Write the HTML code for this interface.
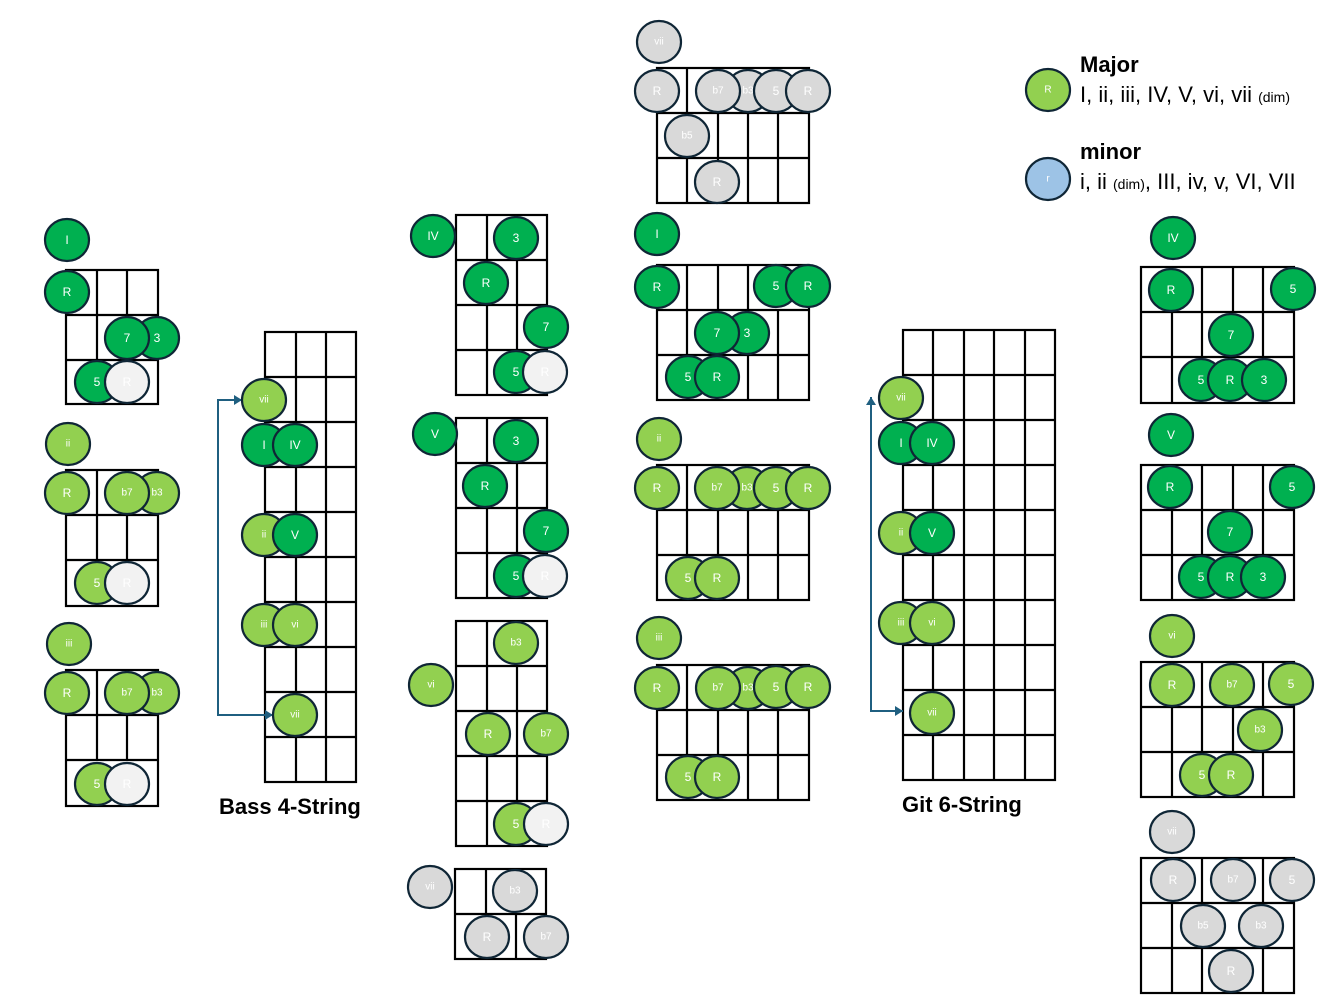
<!DOCTYPE html>
<html><head><meta charset="utf-8"><style>
html,body{margin:0;padding:0;background:#fff;width:1344px;height:1008px;overflow:hidden}
svg{display:block}
.g rect,.g line{stroke:#000;stroke-width:2.2;fill:none}
ellipse{stroke:#0f2636;stroke-width:2.2}
.d{fill:#00B050}.l{fill:#92D050}.y{fill:#D9D9D9}.w{fill:#F2F2F2}.b{fill:#9DC3E6}
text.c{font-family:"Liberation Sans",sans-serif;fill:#fff;font-size:12px;text-anchor:middle;dominant-baseline:central}
text.s{font-size:10px}
</style></head><body>
<svg width="1344" height="1008" viewBox="0 0 1344 1008" xmlns="http://www.w3.org/2000/svg">
<defs><marker id="ah" markerWidth="8" markerHeight="8" refX="7" refY="4" orient="auto" markerUnits="userSpaceOnUse"><path d="M0,0 L8,4 L0,8 z" fill="#1f5f80"/></marker></defs>
<g class="g">
<!-- left I -->
<rect x="66" y="270" width="92" height="134"/><line x1="66" y1="315" x2="158" y2="315"/><line x1="66" y1="360" x2="158" y2="360"/><line x1="97" y1="270" x2="97" y2="360"/><line x1="127" y1="270" x2="127" y2="315"/>
<!-- left ii -->
<rect x="66" y="470" width="92" height="136"/><line x1="66" y1="515" x2="158" y2="515"/><line x1="66" y1="560" x2="158" y2="560"/><line x1="97" y1="470" x2="97" y2="560"/><line x1="127" y1="515" x2="127" y2="560"/>
<!-- left iii -->
<rect x="66" y="670" width="92" height="136"/><line x1="66" y1="715" x2="158" y2="715"/><line x1="66" y1="760" x2="158" y2="760"/><line x1="97" y1="670" x2="97" y2="760"/><line x1="127" y1="715" x2="127" y2="760"/>
<!-- bass -->
<rect x="265" y="332" width="91" height="450"/>
<line x1="296" y1="332" x2="296" y2="782"/><line x1="326" y1="332" x2="326" y2="782"/>
<line x1="265" y1="377" x2="356" y2="377"/><line x1="265" y1="422" x2="356" y2="422"/><line x1="265" y1="467" x2="356" y2="467"/><line x1="265" y1="512" x2="356" y2="512"/><line x1="265" y1="557" x2="356" y2="557"/><line x1="265" y1="602" x2="356" y2="602"/><line x1="265" y1="647" x2="356" y2="647"/><line x1="265" y1="692" x2="356" y2="692"/><line x1="265" y1="737" x2="356" y2="737"/>
<!-- mid IV -->
<rect x="456" y="215" width="91" height="180"/><line x1="456" y1="260" x2="547" y2="260"/><line x1="456" y1="305" x2="547" y2="305"/><line x1="456" y1="350" x2="547" y2="350"/><line x1="487" y1="215" x2="487" y2="260"/><line x1="487" y1="305" x2="487" y2="395"/><line x1="517" y1="260" x2="517" y2="350"/>
<!-- mid V -->
<rect x="456" y="418" width="91" height="180"/><line x1="456" y1="463" x2="547" y2="463"/><line x1="456" y1="508" x2="547" y2="508"/><line x1="456" y1="553" x2="547" y2="553"/><line x1="487" y1="418" x2="487" y2="463"/><line x1="487" y1="508" x2="487" y2="598"/><line x1="517" y1="463" x2="517" y2="553"/>
<!-- mid vi -->
<rect x="456" y="621" width="91" height="225"/><line x1="456" y1="666" x2="547" y2="666"/><line x1="456" y1="711" x2="547" y2="711"/><line x1="456" y1="756" x2="547" y2="756"/><line x1="456" y1="801" x2="547" y2="801"/><line x1="487" y1="621" x2="487" y2="846"/><line x1="517" y1="666" x2="517" y2="801"/>
<!-- mid vii -->
<rect x="455" y="869" width="91" height="90"/><line x1="455" y1="914" x2="546" y2="914"/><line x1="486" y1="869" x2="486" y2="914"/><line x1="516" y1="914" x2="516" y2="959"/>
<!-- col4 vii -->
<rect x="657" y="68" width="152" height="135"/><line x1="657" y1="113" x2="809" y2="113"/><line x1="657" y1="158" x2="809" y2="158"/><line x1="687" y1="68" x2="687" y2="203"/><line x1="718" y1="113" x2="718" y2="203"/><line x1="748" y1="113" x2="748" y2="203"/><line x1="778" y1="113" x2="778" y2="203"/>
<!-- col4 I -->
<rect x="657" y="265" width="152" height="135"/><line x1="657" y1="310" x2="809" y2="310"/><line x1="657" y1="355" x2="809" y2="355"/><line x1="687" y1="265" x2="687" y2="355"/><line x1="718" y1="265" x2="718" y2="310"/><line x1="748" y1="265" x2="748" y2="400"/><line x1="778" y1="310" x2="778" y2="400"/>
<!-- col4 ii -->
<rect x="657" y="465" width="152" height="135"/><line x1="657" y1="510" x2="809" y2="510"/><line x1="657" y1="555" x2="809" y2="555"/><line x1="687" y1="465" x2="687" y2="555"/><line x1="718" y1="510" x2="718" y2="555"/><line x1="748" y1="510" x2="748" y2="600"/><line x1="778" y1="510" x2="778" y2="600"/>
<!-- col4 iii -->
<rect x="657" y="665" width="152" height="135"/><line x1="657" y1="710" x2="809" y2="710"/><line x1="657" y1="755" x2="809" y2="755"/><line x1="687" y1="665" x2="687" y2="755"/><line x1="718" y1="710" x2="718" y2="755"/><line x1="748" y1="710" x2="748" y2="800"/><line x1="778" y1="710" x2="778" y2="800"/>
<!-- git -->
<rect x="903" y="330" width="152" height="450"/>
<line x1="933" y1="330" x2="933" y2="780"/><line x1="964" y1="330" x2="964" y2="780"/><line x1="994" y1="330" x2="994" y2="780"/><line x1="1025" y1="330" x2="1025" y2="780"/>
<line x1="903" y1="375" x2="1055" y2="375"/><line x1="903" y1="420" x2="1055" y2="420"/><line x1="903" y1="465" x2="1055" y2="465"/><line x1="903" y1="510" x2="1055" y2="510"/><line x1="903" y1="555" x2="1055" y2="555"/><line x1="903" y1="600" x2="1055" y2="600"/><line x1="903" y1="645" x2="1055" y2="645"/><line x1="903" y1="690" x2="1055" y2="690"/><line x1="903" y1="735" x2="1055" y2="735"/>
<!-- right grids -->
<rect x="1141" y="267" width="153" height="136"/><line x1="1141" y1="312" x2="1294" y2="312"/><line x1="1141" y1="357" x2="1294" y2="357"/><line x1="1172" y1="312" x2="1172" y2="403"/><line x1="1202" y1="267" x2="1202" y2="357"/><line x1="1233" y1="267" x2="1233" y2="312"/><line x1="1263" y1="267" x2="1263" y2="357"/>
<rect x="1141" y="465" width="153" height="135"/><line x1="1141" y1="510" x2="1294" y2="510"/><line x1="1141" y1="555" x2="1294" y2="555"/><line x1="1172" y1="510" x2="1172" y2="600"/><line x1="1202" y1="465" x2="1202" y2="555"/><line x1="1233" y1="465" x2="1233" y2="510"/><line x1="1263" y1="465" x2="1263" y2="555"/>
<rect x="1141" y="662" width="153" height="135"/><line x1="1141" y1="707" x2="1294" y2="707"/><line x1="1141" y1="752" x2="1294" y2="752"/><line x1="1172" y1="707" x2="1172" y2="797"/><line x1="1202" y1="662" x2="1202" y2="752"/><line x1="1233" y1="707" x2="1233" y2="752"/><line x1="1263" y1="662" x2="1263" y2="797"/>
<rect x="1141" y="858" width="153" height="135"/><line x1="1141" y1="903" x2="1294" y2="903"/><line x1="1141" y1="948" x2="1294" y2="948"/><line x1="1172" y1="903" x2="1172" y2="993"/><line x1="1202" y1="858" x2="1202" y2="993"/><line x1="1263" y1="858" x2="1263" y2="993"/>
</g>
<!-- connectors -->
<polyline points="242,400 218,400 218,715 273,715" fill="none" stroke="#1f5f80" stroke-width="2"/>
<path d="M234,395 L242,400 L234,405 z" fill="#1f5f80"/><path d="M265,710 L273,715 L265,720 z" fill="#1f5f80"/>
<polyline points="871,397 871,711 903,711" fill="none" stroke="#1f5f80" stroke-width="2"/>
<path d="M866,405 L871,397 L876,405 z" fill="#1f5f80"/><path d="M895,706 L903,711 L895,716 z" fill="#1f5f80"/>

<g id="notes">
<!-- left I -->
<ellipse class="d" cx="67" cy="240" rx="22" ry="21"/><text class="c" x="67" y="240">I</text>
<ellipse class="d" cx="67" cy="292" rx="22" ry="21"/><text class="c" x="67" y="292">R</text>
<ellipse class="d" cx="157" cy="338" rx="22" ry="21"/><text class="c" x="157" y="338">3</text>
<ellipse class="d" cx="127" cy="338" rx="22" ry="21"/><text class="c" x="127" y="338">7</text>
<ellipse class="d" cx="97" cy="382" rx="22" ry="21"/><text class="c" x="97" y="382">5</text>
<ellipse class="w" cx="127" cy="382" rx="22" ry="21"/><text class="c" x="127" y="382">R</text>
<!-- left ii -->
<ellipse class="l" cx="68" cy="444" rx="22" ry="21"/><text class="c s" x="68" y="444">ii</text>
<ellipse class="l" cx="67" cy="493" rx="22" ry="21"/><text class="c" x="67" y="493">R</text>
<ellipse class="l" cx="157" cy="493" rx="22" ry="21"/><text class="c s" x="157" y="493">b3</text>
<ellipse class="l" cx="127" cy="493" rx="22" ry="21"/><text class="c s" x="127" y="493">b7</text>
<ellipse class="l" cx="97" cy="583" rx="22" ry="21"/><text class="c" x="97" y="583">5</text>
<ellipse class="w" cx="127" cy="583" rx="22" ry="21"/><text class="c" x="127" y="583">R</text>
<!-- left iii -->
<ellipse class="l" cx="69" cy="644" rx="22" ry="21"/><text class="c s" x="69" y="644">iii</text>
<ellipse class="l" cx="67" cy="693" rx="22" ry="21"/><text class="c" x="67" y="693">R</text>
<ellipse class="l" cx="157" cy="693" rx="22" ry="21"/><text class="c s" x="157" y="693">b3</text>
<ellipse class="l" cx="127" cy="693" rx="22" ry="21"/><text class="c s" x="127" y="693">b7</text>
<ellipse class="l" cx="97" cy="784" rx="22" ry="21"/><text class="c" x="97" y="784">5</text>
<ellipse class="w" cx="127" cy="784" rx="22" ry="21"/><text class="c" x="127" y="784">R</text>
<!-- bass -->
<ellipse class="l" cx="264" cy="400" rx="22" ry="21"/><text class="c s" x="264" y="400">vii</text>
<ellipse class="d" cx="264" cy="445" rx="22" ry="21"/><text class="c" x="264" y="445">I</text>
<ellipse class="d" cx="295" cy="445" rx="22" ry="21"/><text class="c" x="295" y="445">IV</text>
<ellipse class="l" cx="264" cy="535" rx="22" ry="21"/><text class="c s" x="264" y="535">ii</text>
<ellipse class="d" cx="295" cy="535" rx="22" ry="21"/><text class="c" x="295" y="535">V</text>
<ellipse class="l" cx="264" cy="625" rx="22" ry="21"/><text class="c s" x="264" y="625">iii</text>
<ellipse class="l" cx="295" cy="625" rx="22" ry="21"/><text class="c s" x="295" y="625">vi</text>
<ellipse class="l" cx="295" cy="715" rx="22" ry="21"/><text class="c s" x="295" y="715">vii</text>
<!-- mid IV -->
<ellipse class="d" cx="433" cy="236" rx="22" ry="21"/><text class="c" x="433" y="236">IV</text>
<ellipse class="d" cx="516" cy="238" rx="22" ry="21"/><text class="c" x="516" y="238">3</text>
<ellipse class="d" cx="486" cy="283" rx="22" ry="21"/><text class="c" x="486" y="283">R</text>
<ellipse class="d" cx="546" cy="327" rx="22" ry="21"/><text class="c" x="546" y="327">7</text>
<ellipse class="d" cx="516" cy="372" rx="22" ry="21"/><text class="c" x="516" y="372">5</text>
<ellipse class="w" cx="545" cy="372" rx="22" ry="21"/><text class="c" x="545" y="372">R</text>
<!-- mid V -->
<ellipse class="d" cx="435" cy="434" rx="22" ry="21"/><text class="c" x="435" y="434">V</text>
<ellipse class="d" cx="516" cy="441" rx="22" ry="21"/><text class="c" x="516" y="441">3</text>
<ellipse class="d" cx="485" cy="486" rx="22" ry="21"/><text class="c" x="485" y="486">R</text>
<ellipse class="d" cx="546" cy="531" rx="22" ry="21"/><text class="c" x="546" y="531">7</text>
<ellipse class="d" cx="516" cy="576" rx="22" ry="21"/><text class="c" x="516" y="576">5</text>
<ellipse class="w" cx="545" cy="576" rx="22" ry="21"/><text class="c" x="545" y="576">R</text>
<!-- mid vi -->
<ellipse class="l" cx="431" cy="685" rx="22" ry="21"/><text class="c s" x="431" y="685">vi</text>
<ellipse class="l" cx="516" cy="643" rx="22" ry="21"/><text class="c s" x="516" y="643">b3</text>
<ellipse class="l" cx="488" cy="734" rx="22" ry="21"/><text class="c" x="488" y="734">R</text>
<ellipse class="l" cx="546" cy="734" rx="22" ry="21"/><text class="c s" x="546" y="734">b7</text>
<ellipse class="l" cx="516" cy="824" rx="22" ry="21"/><text class="c" x="516" y="824">5</text>
<ellipse class="w" cx="546" cy="824" rx="22" ry="21"/><text class="c" x="546" y="824">R</text>
<!-- mid vii -->
<ellipse class="y" cx="430" cy="887" rx="22" ry="21"/><text class="c s" x="430" y="887">vii</text>
<ellipse class="y" cx="515" cy="891" rx="22" ry="21"/><text class="c s" x="515" y="891">b3</text>
<ellipse class="y" cx="487" cy="937" rx="22" ry="21"/><text class="c" x="487" y="937">R</text>
<ellipse class="y" cx="546" cy="937" rx="22" ry="21"/><text class="c s" x="546" y="937">b7</text>
<!-- col4 vii -->
<ellipse class="y" cx="659" cy="42" rx="22" ry="21"/><text class="c s" x="659" y="42">vii</text>
<ellipse class="y" cx="657" cy="91" rx="22" ry="21"/><text class="c" x="657" y="91">R</text>
<ellipse class="y" cx="748" cy="91" rx="22" ry="21"/><text class="c s" x="748" y="91">b3</text>
<ellipse class="y" cx="718" cy="91" rx="22" ry="21"/><text class="c s" x="718" y="91">b7</text>
<ellipse class="y" cx="776" cy="91" rx="22" ry="21"/><text class="c" x="776" y="91">5</text>
<ellipse class="y" cx="808" cy="91" rx="22" ry="21"/><text class="c" x="808" y="91">R</text>
<ellipse class="y" cx="687" cy="136" rx="22" ry="21"/><text class="c s" x="687" y="136">b5</text>
<ellipse class="y" cx="717" cy="182" rx="22" ry="21"/><text class="c" x="717" y="182">R</text>
<!-- col4 I -->
<ellipse class="d" cx="657" cy="234" rx="22" ry="21"/><text class="c" x="657" y="234">I</text>
<ellipse class="d" cx="657" cy="287" rx="22" ry="21"/><text class="c" x="657" y="287">R</text>
<ellipse class="d" cx="776" cy="286" rx="22" ry="21"/><text class="c" x="776" y="286">5</text>
<ellipse class="d" cx="808" cy="286" rx="22" ry="21"/><text class="c" x="808" y="286">R</text>
<ellipse class="d" cx="747" cy="333" rx="22" ry="21"/><text class="c" x="747" y="333">3</text>
<ellipse class="d" cx="717" cy="333" rx="22" ry="21"/><text class="c" x="717" y="333">7</text>
<ellipse class="d" cx="688" cy="377" rx="22" ry="21"/><text class="c" x="688" y="377">5</text>
<ellipse class="d" cx="717" cy="377" rx="22" ry="21"/><text class="c" x="717" y="377">R</text>
<!-- col4 ii -->
<ellipse class="l" cx="659" cy="439" rx="22" ry="21"/><text class="c s" x="659" y="439">ii</text>
<ellipse class="l" cx="657" cy="488" rx="22" ry="21"/><text class="c" x="657" y="488">R</text>
<ellipse class="l" cx="747" cy="488" rx="22" ry="21"/><text class="c s" x="747" y="488">b3</text>
<ellipse class="l" cx="717" cy="488" rx="22" ry="21"/><text class="c s" x="717" y="488">b7</text>
<ellipse class="l" cx="776" cy="488" rx="22" ry="21"/><text class="c" x="776" y="488">5</text>
<ellipse class="l" cx="808" cy="488" rx="22" ry="21"/><text class="c" x="808" y="488">R</text>
<ellipse class="l" cx="688" cy="578" rx="22" ry="21"/><text class="c" x="688" y="578">5</text>
<ellipse class="l" cx="717" cy="578" rx="22" ry="21"/><text class="c" x="717" y="578">R</text>
<!-- col4 iii -->
<ellipse class="l" cx="659" cy="638" rx="22" ry="21"/><text class="c s" x="659" y="638">iii</text>
<ellipse class="l" cx="657" cy="688" rx="22" ry="21"/><text class="c" x="657" y="688">R</text>
<ellipse class="l" cx="748" cy="688" rx="22" ry="21"/><text class="c s" x="748" y="688">b3</text>
<ellipse class="l" cx="718" cy="688" rx="22" ry="21"/><text class="c s" x="718" y="688">b7</text>
<ellipse class="l" cx="776" cy="687" rx="22" ry="21"/><text class="c" x="776" y="687">5</text>
<ellipse class="l" cx="808" cy="687" rx="22" ry="21"/><text class="c" x="808" y="687">R</text>
<ellipse class="l" cx="688" cy="777" rx="22" ry="21"/><text class="c" x="688" y="777">5</text>
<ellipse class="l" cx="717" cy="777" rx="22" ry="21"/><text class="c" x="717" y="777">R</text>
<!-- git -->
<ellipse class="l" cx="901" cy="398" rx="22" ry="21"/><text class="c s" x="901" y="398">vii</text>
<ellipse class="d" cx="901" cy="443" rx="22" ry="21"/><text class="c" x="901" y="443">I</text>
<ellipse class="d" cx="932" cy="443" rx="22" ry="21"/><text class="c" x="932" y="443">IV</text>
<ellipse class="l" cx="901" cy="533" rx="22" ry="21"/><text class="c s" x="901" y="533">ii</text>
<ellipse class="d" cx="932" cy="533" rx="22" ry="21"/><text class="c" x="932" y="533">V</text>
<ellipse class="l" cx="901" cy="623" rx="22" ry="21"/><text class="c s" x="901" y="623">iii</text>
<ellipse class="l" cx="932" cy="623" rx="22" ry="21"/><text class="c s" x="932" y="623">vi</text>
<ellipse class="l" cx="932" cy="713" rx="22" ry="21"/><text class="c s" x="932" y="713">vii</text>
<!-- right IV -->
<ellipse class="d" cx="1173" cy="238" rx="22" ry="21"/><text class="c" x="1173" y="238">IV</text>
<ellipse class="d" cx="1171" cy="290" rx="22" ry="21"/><text class="c" x="1171" y="290">R</text>
<ellipse class="d" cx="1293" cy="289" rx="22" ry="21"/><text class="c" x="1293" y="289">5</text>
<ellipse class="d" cx="1231" cy="335" rx="22" ry="21"/><text class="c" x="1231" y="335">7</text>
<ellipse class="d" cx="1201" cy="380" rx="22" ry="21"/><text class="c" x="1201" y="380">5</text>
<ellipse class="d" cx="1230" cy="380" rx="22" ry="21"/><text class="c" x="1230" y="380">R</text>
<ellipse class="d" cx="1264" cy="380" rx="22" ry="21"/><text class="c" x="1264" y="380">3</text>
<!-- right V -->
<ellipse class="d" cx="1171" cy="435" rx="22" ry="21"/><text class="c" x="1171" y="435">V</text>
<ellipse class="d" cx="1170" cy="487" rx="22" ry="21"/><text class="c" x="1170" y="487">R</text>
<ellipse class="d" cx="1292" cy="487" rx="22" ry="21"/><text class="c" x="1292" y="487">5</text>
<ellipse class="d" cx="1230" cy="532" rx="22" ry="21"/><text class="c" x="1230" y="532">7</text>
<ellipse class="d" cx="1201" cy="577" rx="22" ry="21"/><text class="c" x="1201" y="577">5</text>
<ellipse class="d" cx="1230" cy="577" rx="22" ry="21"/><text class="c" x="1230" y="577">R</text>
<ellipse class="d" cx="1263" cy="577" rx="22" ry="21"/><text class="c" x="1263" y="577">3</text>
<!-- right vi -->
<ellipse class="l" cx="1172" cy="636" rx="22" ry="21"/><text class="c s" x="1172" y="636">vi</text>
<ellipse class="l" cx="1172" cy="685" rx="22" ry="21"/><text class="c" x="1172" y="685">R</text>
<ellipse class="l" cx="1232" cy="685" rx="22" ry="21"/><text class="c s" x="1232" y="685">b7</text>
<ellipse class="l" cx="1291" cy="684" rx="22" ry="21"/><text class="c" x="1291" y="684">5</text>
<ellipse class="l" cx="1260" cy="730" rx="22" ry="21"/><text class="c s" x="1260" y="730">b3</text>
<ellipse class="l" cx="1202" cy="775" rx="22" ry="21"/><text class="c" x="1202" y="775">5</text>
<ellipse class="l" cx="1231" cy="775" rx="22" ry="21"/><text class="c" x="1231" y="775">R</text>
<!-- right vii -->
<ellipse class="y" cx="1172" cy="832" rx="22" ry="21"/><text class="c s" x="1172" y="832">vii</text>
<ellipse class="y" cx="1173" cy="880" rx="22" ry="21"/><text class="c" x="1173" y="880">R</text>
<ellipse class="y" cx="1233" cy="880" rx="22" ry="21"/><text class="c s" x="1233" y="880">b7</text>
<ellipse class="y" cx="1292" cy="880" rx="22" ry="21"/><text class="c" x="1292" y="880">5</text>
<ellipse class="y" cx="1203" cy="926" rx="22" ry="21"/><text class="c s" x="1203" y="926">b5</text>
<ellipse class="y" cx="1261" cy="926" rx="22" ry="21"/><text class="c s" x="1261" y="926">b3</text>
<ellipse class="y" cx="1231" cy="971" rx="22" ry="21"/><text class="c" x="1231" y="971">R</text>
<!-- legend -->
<ellipse class="l" cx="1048" cy="90" rx="22" ry="21"/><text class="c s" x="1048" y="90">R</text>
<ellipse class="b" cx="1048" cy="179" rx="22" ry="21"/><text class="c s" x="1048" y="179">r</text>
</g>
<g font-family="Liberation Sans, sans-serif" fill="#000">
<text x="219" y="814" font-size="22" font-weight="bold">Bass 4-String</text>
<text x="902" y="812" font-size="22" font-weight="bold">Git 6-String</text>
<text x="1080" y="72" font-size="22" font-weight="bold">Major</text>
<text x="1080" y="102" font-size="22">I, ii, iii, IV, V, vi, vii <tspan font-size="14">(dim)</tspan></text>
<text x="1080" y="159" font-size="22" font-weight="bold">minor</text>
<text x="1080" y="189" font-size="22">i, ii <tspan font-size="14">(dim)</tspan>, III, iv, v, VI, VII</text>
</g>
</svg>
</body></html>
